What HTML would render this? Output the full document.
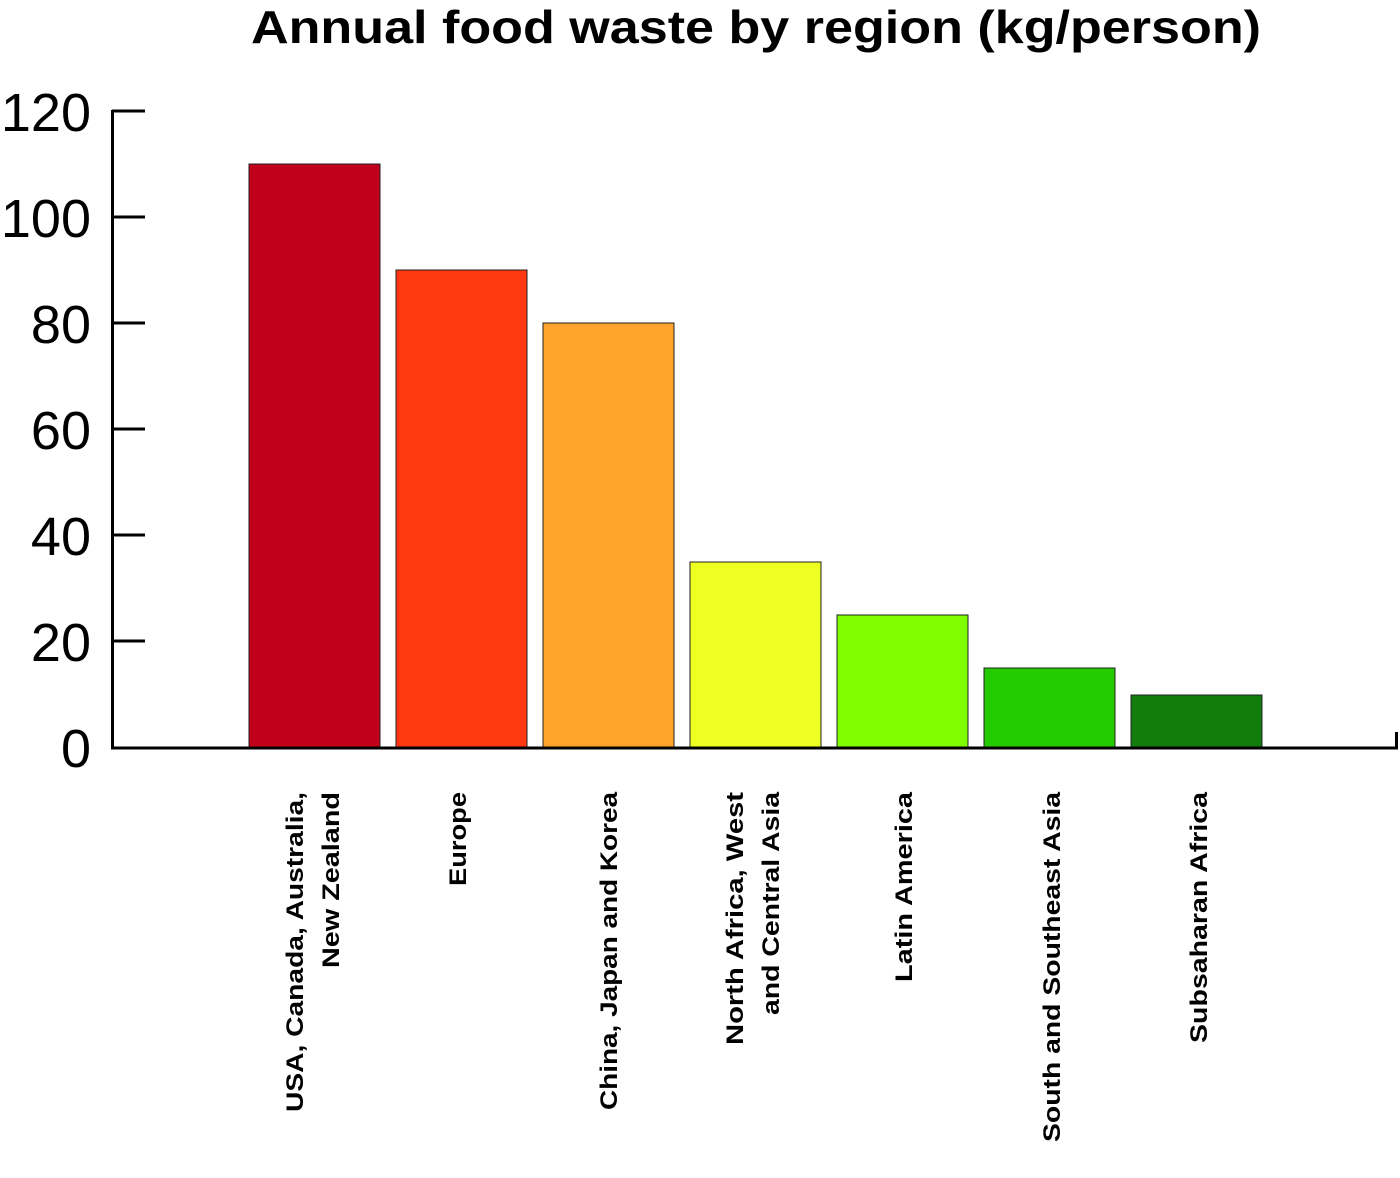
<!DOCTYPE html>
<html><head><meta charset="utf-8"><style>body{margin:0;background:#fff}</style></head>
<body>
<svg width="1400" height="1173" xmlns="http://www.w3.org/2000/svg" font-family="Liberation Sans, DejaVu Sans, sans-serif">
<text x="251" y="43" font-size="46" font-weight="bold" textLength="1010" lengthAdjust="spacingAndGlyphs">Annual food waste by region (kg/person)</text>
<g font-size="54" text-anchor="end">
<text x="91" y="767">0</text><text x="91" y="661">20</text><text x="91" y="555">40</text><text x="91" y="449">60</text><text x="91" y="343">80</text><text x="91" y="237">100</text><text x="91" y="131">120</text>
</g>
<g stroke="#000" stroke-width="3">
<line x1="112" y1="111" x2="145" y2="111"/><line x1="112" y1="217" x2="145" y2="217"/><line x1="112" y1="323" x2="145" y2="323"/><line x1="112" y1="429" x2="145" y2="429"/><line x1="112" y1="535" x2="145" y2="535"/><line x1="112" y1="641" x2="145" y2="641"/>
</g>
<g stroke="#222" stroke-width="1">
<rect x="249" y="164" width="131" height="584" fill="#c3001a"/>
<rect x="396" y="270" width="131" height="478" fill="#ff3811"/>
<rect x="543" y="323" width="131" height="425" fill="#ffa42b"/>
<rect x="690" y="562" width="131" height="186" fill="#eeff22"/>
<rect x="837" y="615" width="131" height="133" fill="#7fff00"/>
<rect x="984" y="668" width="131" height="80" fill="#22cc00"/>
<rect x="1131" y="695" width="131" height="53" fill="#137d0c"/>
</g>
<path d="M112.5 110 V748 H1396.5 V732" fill="none" stroke="#000" stroke-width="3"/>
<g font-size="24" font-weight="bold" text-anchor="end" lengthAdjust="spacingAndGlyphs">
<text transform="translate(303,792) rotate(-90)" textLength="320" lengthAdjust="spacingAndGlyphs">USA, Canada, Australia,</text>
<text transform="translate(339,792) rotate(-90)" textLength="176" lengthAdjust="spacingAndGlyphs">New Zealand</text>
<text transform="translate(466,792) rotate(-90)" textLength="94" lengthAdjust="spacingAndGlyphs">Europe</text>
<text transform="translate(617,792) rotate(-90)" textLength="318" lengthAdjust="spacingAndGlyphs">China, Japan and Korea</text>
<text transform="translate(743,792) rotate(-90)" textLength="253" lengthAdjust="spacingAndGlyphs">North Africa, West</text>
<text transform="translate(779,792) rotate(-90)" textLength="223" lengthAdjust="spacingAndGlyphs">and Central Asia</text>
<text transform="translate(912,792) rotate(-90)" textLength="190" lengthAdjust="spacingAndGlyphs">Latin America</text>
<text transform="translate(1060,792) rotate(-90)" textLength="350" lengthAdjust="spacingAndGlyphs">South and Southeast Asia</text>
<text transform="translate(1207,792) rotate(-90)" textLength="251" lengthAdjust="spacingAndGlyphs">Subsaharan Africa</text>
</g>
</svg>
</body></html>
